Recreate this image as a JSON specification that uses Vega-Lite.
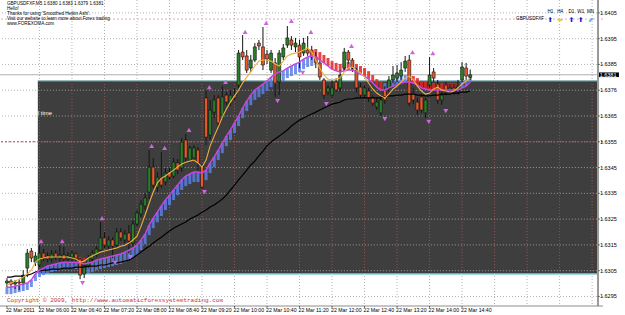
{
"$schema":"https://vega.github.io/schema/vega-lite/v6.json",
"width":603,"height":306,
"autosize":{"type":"none"},
"padding":{"left":0,"top":0,"right":22,"bottom":9},
"background":"white",
"config":{"view":{"stroke":null}},
"datasets":{
"bars":[
{"t":"2011-03-22T05:20:00Z","o":1.63002,"h":1.63021,"l":1.62986,"c":1.63010,"m1":1.62994,"m2":1.62986,"m3":1.63025,"hb":1.62959,"hd":"u"},
{"t":"2011-03-22T05:25:00Z","o":1.63010,"h":1.63017,"l":1.62983,"c":1.62998,"m1":1.63002,"m2":1.62986,"m3":1.63025,"hb":1.62959,"hd":"u"},
{"t":"2011-03-22T05:30:00Z","o":1.62998,"h":1.63014,"l":1.62979,"c":1.63006,"m1":1.63010,"m2":1.62990,"m3":1.63029,"hb":1.62963,"hd":"u"},
{"t":"2011-03-22T05:35:00Z","o":1.63006,"h":1.63017,"l":1.62975,"c":1.63002,"m1":1.63017,"m2":1.62994,"m3":1.63029,"hb":1.62967,"hd":"u"},
{"t":"2011-03-22T05:40:00Z","o":1.63002,"h":1.63052,"l":1.62994,"c":1.63033,"m1":1.63025,"m2":1.62998,"m3":1.63029,"hb":1.62971,"hd":"u"},
{"t":"2011-03-22T05:45:00Z","o":1.63060,"h":1.63134,"l":1.63025,"c":1.63118,"m1":1.63037,"m2":1.63002,"m3":1.63033,"hb":1.62975,"hd":"u"},
{"t":"2011-03-22T05:50:00Z","o":1.63126,"h":1.63138,"l":1.63083,"c":1.63099,"m1":1.63052,"m2":1.63014,"m3":1.63037,"hb":1.62987,"hd":"u"},
{"t":"2011-03-22T05:55:00Z","o":1.63083,"h":1.63122,"l":1.63068,"c":1.63107,"m1":1.63083,"m2":1.63037,"m3":1.63045,"hb":1.63010,"hd":"u"},
{"t":"2011-03-22T06:00:00Z","o":1.63072,"h":1.63149,"l":1.63064,"c":1.63118,"m1":1.63095,"m2":1.63052,"m3":1.63049,"hb":1.63025,"hd":"u"},
{"t":"2011-03-22T06:05:00Z","o":1.63118,"h":1.63134,"l":1.63087,"c":1.63099,"m1":1.63099,"m2":1.63060,"m3":1.63052,"hb":1.63033,"hd":"u"},
{"t":"2011-03-22T06:10:00Z","o":1.63107,"h":1.63122,"l":1.63083,"c":1.63095,"m1":1.63103,"m2":1.63068,"m3":1.63052,"hb":1.63041,"hd":"u"},
{"t":"2011-03-22T06:15:00Z","o":1.63095,"h":1.63130,"l":1.63083,"c":1.63115,"m1":1.63103,"m2":1.63072,"m3":1.63056,"hb":1.63045,"hd":"u"},
{"t":"2011-03-22T06:20:00Z","o":1.63118,"h":1.63130,"l":1.63091,"c":1.63103,"m1":1.63103,"m2":1.63076,"m3":1.63056,"hb":1.63049,"hd":"u"},
{"t":"2011-03-22T06:25:00Z","o":1.63099,"h":1.63149,"l":1.63087,"c":1.63111,"m1":1.63103,"m2":1.63080,"m3":1.63056,"hb":1.63053,"hd":"u"},
{"t":"2011-03-22T06:30:00Z","o":1.63111,"h":1.63142,"l":1.63083,"c":1.63095,"m1":1.63103,"m2":1.63083,"m3":1.63060,"hb":1.63056,"hd":"u"},
{"t":"2011-03-22T06:35:00Z","o":1.63095,"h":1.63122,"l":1.63080,"c":1.63107,"m1":1.63103,"m2":1.63083,"m3":1.63060,"hb":1.63056,"hd":"u"},
{"t":"2011-03-22T06:40:00Z","o":1.63103,"h":1.63130,"l":1.63083,"c":1.63118,"m1":1.63099,"m2":1.63083,"m3":1.63060,"hb":1.63056,"hd":"u"},
{"t":"2011-03-22T06:45:00Z","o":1.63115,"h":1.63122,"l":1.63080,"c":1.63099,"m1":1.63095,"m2":1.63083,"m3":1.63064,"hb":1.63056,"hd":"u"},
{"t":"2011-03-22T06:50:00Z","o":1.63095,"h":1.63099,"l":1.63017,"c":1.63033,"m1":1.63083,"m2":1.63080,"m3":1.63064,"hb":1.63103,"hd":"d"},
{"t":"2011-03-22T06:55:00Z","o":1.63037,"h":1.63083,"l":1.63021,"c":1.63068,"m1":1.63087,"m2":1.63076,"m3":1.63064,"hb":1.63099,"hd":"d"},
{"t":"2011-03-22T07:00:00Z","o":1.63068,"h":1.63111,"l":1.63060,"c":1.63099,"m1":1.63099,"m2":1.63080,"m3":1.63068,"hb":1.63041,"hd":"u"},
{"t":"2011-03-22T07:05:00Z","o":1.63095,"h":1.63130,"l":1.63087,"c":1.63118,"m1":1.63107,"m2":1.63083,"m3":1.63068,"hb":1.63044,"hd":"u"},
{"t":"2011-03-22T07:10:00Z","o":1.63111,"h":1.63145,"l":1.63103,"c":1.63134,"m1":1.63115,"m2":1.63091,"m3":1.63068,"hb":1.63052,"hd":"u"},
{"t":"2011-03-22T07:15:00Z","o":1.63130,"h":1.63239,"l":1.63122,"c":1.63177,"m1":1.63122,"m2":1.63095,"m3":1.63072,"hb":1.63056,"hd":"u"},
{"t":"2011-03-22T07:20:00Z","o":1.63177,"h":1.63200,"l":1.63138,"c":1.63149,"m1":1.63126,"m2":1.63099,"m3":1.63072,"hb":1.63060,"hd":"u"},
{"t":"2011-03-22T07:25:00Z","o":1.63145,"h":1.63184,"l":1.63130,"c":1.63169,"m1":1.63130,"m2":1.63103,"m3":1.63076,"hb":1.63064,"hd":"u"},
{"t":"2011-03-22T07:30:00Z","o":1.63169,"h":1.63180,"l":1.63099,"c":1.63145,"m1":1.63134,"m2":1.63107,"m3":1.63080,"hb":1.63068,"hd":"u"},
{"t":"2011-03-22T07:35:00Z","o":1.63149,"h":1.63215,"l":1.63142,"c":1.63200,"m1":1.63138,"m2":1.63111,"m3":1.63080,"hb":1.63072,"hd":"u"},
{"t":"2011-03-22T07:40:00Z","o":1.63200,"h":1.63215,"l":1.63165,"c":1.63177,"m1":1.63145,"m2":1.63115,"m3":1.63083,"hb":1.63076,"hd":"u"},
{"t":"2011-03-22T07:45:00Z","o":1.63169,"h":1.63208,"l":1.63157,"c":1.63192,"m1":1.63149,"m2":1.63122,"m3":1.63087,"hb":1.63083,"hd":"u"},
{"t":"2011-03-22T07:50:00Z","o":1.63196,"h":1.63227,"l":1.63118,"c":1.63165,"m1":1.63157,"m2":1.63130,"m3":1.63091,"hb":1.63091,"hd":"u"},
{"t":"2011-03-22T07:55:00Z","o":1.63157,"h":1.63246,"l":1.63145,"c":1.63231,"m1":1.63169,"m2":1.63138,"m3":1.63099,"hb":1.63099,"hd":"u"},
{"t":"2011-03-22T08:00:00Z","o":1.63231,"h":1.63285,"l":1.63223,"c":1.63274,"m1":1.63184,"m2":1.63149,"m3":1.63111,"hb":1.63110,"hd":"u"},
{"t":"2011-03-22T08:05:00Z","o":1.63270,"h":1.63324,"l":1.63258,"c":1.63308,"m1":1.63223,"m2":1.63169,"m3":1.63122,"hb":1.63130,"hd":"u"},
{"t":"2011-03-22T08:10:00Z","o":1.63301,"h":1.63351,"l":1.63285,"c":1.63332,"m1":1.63266,"m2":1.63192,"m3":1.63134,"hb":1.63153,"hd":"u"},
{"t":"2011-03-22T08:15:00Z","o":1.63355,"h":1.63518,"l":1.63328,"c":1.63452,"m1":1.63312,"m2":1.63227,"m3":1.63145,"hb":1.63188,"hd":"u"},
{"t":"2011-03-22T08:20:00Z","o":1.63452,"h":1.63487,"l":1.63371,"c":1.63382,"m1":1.63355,"m2":1.63254,"m3":1.63157,"hb":1.63215,"hd":"u"},
{"t":"2011-03-22T08:25:00Z","o":1.63374,"h":1.63433,"l":1.63355,"c":1.63413,"m1":1.63390,"m2":1.63277,"m3":1.63169,"hb":1.63238,"hd":"u"},
{"t":"2011-03-22T08:30:00Z","o":1.63409,"h":1.63510,"l":1.63371,"c":1.63382,"m1":1.63409,"m2":1.63301,"m3":1.63180,"hb":1.63262,"hd":"u"},
{"t":"2011-03-22T08:35:00Z","o":1.63394,"h":1.63448,"l":1.63382,"c":1.63429,"m1":1.63417,"m2":1.63324,"m3":1.63192,"hb":1.63285,"hd":"u"},
{"t":"2011-03-22T08:40:00Z","o":1.63433,"h":1.63448,"l":1.63402,"c":1.63413,"m1":1.63429,"m2":1.63343,"m3":1.63204,"hb":1.63304,"hd":"u"},
{"t":"2011-03-22T08:45:00Z","o":1.63417,"h":1.63487,"l":1.63409,"c":1.63471,"m1":1.63440,"m2":1.63363,"m3":1.63215,"hb":1.63324,"hd":"u"},
{"t":"2011-03-22T08:50:00Z","o":1.63468,"h":1.63483,"l":1.63425,"c":1.63440,"m1":1.63452,"m2":1.63382,"m3":1.63223,"hb":1.63343,"hd":"u"},
{"t":"2011-03-22T08:55:00Z","o":1.63448,"h":1.63565,"l":1.63433,"c":1.63549,"m1":1.63464,"m2":1.63402,"m3":1.63231,"hb":1.63363,"hd":"u"},
{"t":"2011-03-22T09:00:00Z","o":1.63557,"h":1.63580,"l":1.63471,"c":1.63487,"m1":1.63471,"m2":1.63417,"m3":1.63239,"hb":1.63378,"hd":"u"},
{"t":"2011-03-22T09:05:00Z","o":1.63479,"h":1.63534,"l":1.63468,"c":1.63526,"m1":1.63475,"m2":1.63425,"m3":1.63250,"hb":1.63386,"hd":"u"},
{"t":"2011-03-22T09:10:00Z","o":1.63487,"h":1.63537,"l":1.63479,"c":1.63526,"m1":1.63479,"m2":1.63433,"m3":1.63258,"hb":1.63394,"hd":"u"},
{"t":"2011-03-22T09:15:00Z","o":1.63518,"h":1.63530,"l":1.63440,"c":1.63468,"m1":1.63468,"m2":1.63433,"m3":1.63266,"hb":1.63394,"hd":"u"},
{"t":"2011-03-22T09:20:00Z","o":1.63456,"h":1.63464,"l":1.63367,"c":1.63374,"m1":1.63452,"m2":1.63429,"m3":1.63277,"hb":1.63390,"hd":"u"},
{"t":"2011-03-22T09:25:00Z","o":1.63720,"h":1.63751,"l":1.63537,"c":1.63568,"m1":1.63479,"m2":1.63440,"m3":1.63285,"hb":1.63401,"hd":"u"},
{"t":"2011-03-22T09:30:00Z","o":1.63576,"h":1.63712,"l":1.63557,"c":1.63673,"m1":1.63534,"m2":1.63468,"m3":1.63297,"hb":1.63429,"hd":"u"},
{"t":"2011-03-22T09:35:00Z","o":1.63665,"h":1.63731,"l":1.63642,"c":1.63712,"m1":1.63572,"m2":1.63491,"m3":1.63305,"hb":1.63452,"hd":"u"},
{"t":"2011-03-22T09:40:00Z","o":1.63720,"h":1.63731,"l":1.63607,"c":1.63623,"m1":1.63607,"m2":1.63518,"m3":1.63316,"hb":1.63479,"hd":"u"},
{"t":"2011-03-22T09:45:00Z","o":1.63654,"h":1.63766,"l":1.63642,"c":1.63724,"m1":1.63646,"m2":1.63545,"m3":1.63328,"hb":1.63506,"hd":"u"},
{"t":"2011-03-22T09:50:00Z","o":1.63731,"h":1.63743,"l":1.63693,"c":1.63704,"m1":1.63677,"m2":1.63572,"m3":1.63343,"hb":1.63533,"hd":"u"},
{"t":"2011-03-22T09:55:00Z","o":1.63700,"h":1.63751,"l":1.63689,"c":1.63731,"m1":1.63704,"m2":1.63596,"m3":1.63363,"hb":1.63557,"hd":"u"},
{"t":"2011-03-22T10:00:00Z","o":1.63731,"h":1.63759,"l":1.63712,"c":1.63720,"m1":1.63728,"m2":1.63623,"m3":1.63382,"hb":1.63584,"hd":"u"},
{"t":"2011-03-22T10:05:00Z","o":1.63770,"h":1.63906,"l":1.63759,"c":1.63894,"m1":1.63751,"m2":1.63650,"m3":1.63402,"hb":1.63611,"hd":"u"},
{"t":"2011-03-22T10:10:00Z","o":1.63898,"h":1.63964,"l":1.63867,"c":1.63879,"m1":1.63778,"m2":1.63681,"m3":1.63421,"hb":1.63642,"hd":"u"},
{"t":"2011-03-22T10:15:00Z","o":1.63883,"h":1.63906,"l":1.63817,"c":1.63828,"m1":1.63801,"m2":1.63708,"m3":1.63440,"hb":1.63669,"hd":"u"},
{"t":"2011-03-22T10:20:00Z","o":1.63836,"h":1.63887,"l":1.63821,"c":1.63867,"m1":1.63821,"m2":1.63731,"m3":1.63460,"hb":1.63692,"hd":"u"},
{"t":"2011-03-22T10:25:00Z","o":1.63867,"h":1.63933,"l":1.63859,"c":1.63918,"m1":1.63844,"m2":1.63751,"m3":1.63475,"hb":1.63712,"hd":"u"},
{"t":"2011-03-22T10:30:00Z","o":1.63933,"h":1.63945,"l":1.63906,"c":1.63922,"m1":1.63863,"m2":1.63762,"m3":1.63495,"hb":1.63723,"hd":"u"},
{"t":"2011-03-22T10:35:00Z","o":1.63918,"h":1.63995,"l":1.63828,"c":1.63848,"m1":1.63867,"m2":1.63774,"m3":1.63514,"hb":1.63735,"hd":"u"},
{"t":"2011-03-22T10:40:00Z","o":1.63890,"h":1.63906,"l":1.63852,"c":1.63871,"m1":1.63867,"m2":1.63786,"m3":1.63534,"hb":1.63747,"hd":"u"},
{"t":"2011-03-22T10:45:00Z","o":1.63828,"h":1.63906,"l":1.63817,"c":1.63894,"m1":1.63863,"m2":1.63801,"m3":1.63549,"hb":1.63762,"hd":"u"},
{"t":"2011-03-22T10:50:00Z","o":1.63856,"h":1.63875,"l":1.63724,"c":1.63778,"m1":1.63852,"m2":1.63813,"m3":1.63561,"hb":1.63774,"hd":"u"},
{"t":"2011-03-22T10:55:00Z","o":1.63782,"h":1.63906,"l":1.63731,"c":1.63894,"m1":1.63844,"m2":1.63821,"m3":1.63572,"hb":1.63782,"hd":"u"},
{"t":"2011-03-22T11:00:00Z","o":1.63879,"h":1.63929,"l":1.63867,"c":1.63914,"m1":1.63863,"m2":1.63825,"m3":1.63584,"hb":1.63786,"hd":"u"},
{"t":"2011-03-22T11:05:00Z","o":1.63925,"h":1.63999,"l":1.63914,"c":1.63953,"m1":1.63883,"m2":1.63836,"m3":1.63596,"hb":1.63797,"hd":"u"},
{"t":"2011-03-22T11:10:00Z","o":1.63945,"h":1.63960,"l":1.63906,"c":1.63925,"m1":1.63890,"m2":1.63844,"m3":1.63611,"hb":1.63805,"hd":"u"},
{"t":"2011-03-22T11:15:00Z","o":1.63918,"h":1.63953,"l":1.63898,"c":1.63933,"m1":1.63894,"m2":1.63852,"m3":1.63623,"hb":1.63813,"hd":"u"},
{"t":"2011-03-22T11:20:00Z","o":1.63925,"h":1.63945,"l":1.63836,"c":1.63879,"m1":1.63898,"m2":1.63859,"m3":1.63634,"hb":1.63820,"hd":"u"},
{"t":"2011-03-22T11:25:00Z","o":1.63894,"h":1.63953,"l":1.63883,"c":1.63933,"m1":1.63906,"m2":1.63871,"m3":1.63642,"hb":1.63832,"hd":"u"},
{"t":"2011-03-22T11:30:00Z","o":1.63906,"h":1.63960,"l":1.63883,"c":1.63894,"m1":1.63914,"m2":1.63879,"m3":1.63650,"hb":1.63840,"hd":"u"},
{"t":"2011-03-22T11:35:00Z","o":1.63906,"h":1.63922,"l":1.63867,"c":1.63879,"m1":1.63898,"m2":1.63883,"m3":1.63658,"hb":1.63844,"hd":"u"},
{"t":"2011-03-22T11:40:00Z","o":1.63879,"h":1.63898,"l":1.63836,"c":1.63856,"m1":1.63867,"m2":1.63879,"m3":1.63665,"hb":1.63910,"hd":"d"},
{"t":"2011-03-22T11:45:00Z","o":1.63856,"h":1.63867,"l":1.63790,"c":1.63801,"m1":1.63836,"m2":1.63867,"m3":1.63673,"hb":1.63898,"hd":"d"},
{"t":"2011-03-22T11:50:00Z","o":1.63790,"h":1.63797,"l":1.63716,"c":1.63731,"m1":1.63809,"m2":1.63856,"m3":1.63681,"hb":1.63887,"hd":"d"},
{"t":"2011-03-22T11:55:00Z","o":1.63743,"h":1.63770,"l":1.63731,"c":1.63759,"m1":1.63793,"m2":1.63844,"m3":1.63689,"hb":1.63875,"hd":"d"},
{"t":"2011-03-22T12:00:00Z","o":1.63731,"h":1.63790,"l":1.63720,"c":1.63759,"m1":1.63790,"m2":1.63832,"m3":1.63696,"hb":1.63863,"hd":"d"},
{"t":"2011-03-22T12:05:00Z","o":1.63782,"h":1.63797,"l":1.63743,"c":1.63751,"m1":1.63793,"m2":1.63825,"m3":1.63700,"hb":1.63856,"hd":"d"},
{"t":"2011-03-22T12:10:00Z","o":1.63759,"h":1.63828,"l":1.63743,"c":1.63809,"m1":1.63797,"m2":1.63821,"m3":1.63704,"hb":1.63852,"hd":"d"},
{"t":"2011-03-22T12:15:00Z","o":1.63836,"h":1.63914,"l":1.63828,"c":1.63898,"m1":1.63821,"m2":1.63825,"m3":1.63712,"hb":1.63856,"hd":"d"},
{"t":"2011-03-22T12:20:00Z","o":1.63898,"h":1.63906,"l":1.63852,"c":1.63867,"m1":1.63836,"m2":1.63828,"m3":1.63716,"hb":1.63859,"hd":"d"},
{"t":"2011-03-22T12:25:00Z","o":1.63867,"h":1.63875,"l":1.63821,"c":1.63836,"m1":1.63840,"m2":1.63828,"m3":1.63716,"hb":1.63859,"hd":"d"},
{"t":"2011-03-22T12:30:00Z","o":1.63828,"h":1.63836,"l":1.63743,"c":1.63759,"m1":1.63828,"m2":1.63821,"m3":1.63720,"hb":1.63852,"hd":"d"},
{"t":"2011-03-22T12:35:00Z","o":1.63762,"h":1.63778,"l":1.63720,"c":1.63731,"m1":1.63817,"m2":1.63813,"m3":1.63720,"hb":1.63844,"hd":"d"},
{"t":"2011-03-22T12:40:00Z","o":1.63731,"h":1.63770,"l":1.63716,"c":1.63759,"m1":1.63801,"m2":1.63805,"m3":1.63720,"hb":1.63836,"hd":"d"},
{"t":"2011-03-22T12:45:00Z","o":1.63747,"h":1.63759,"l":1.63704,"c":1.63720,"m1":1.63778,"m2":1.63793,"m3":1.63720,"hb":1.63824,"hd":"d"},
{"t":"2011-03-22T12:50:00Z","o":1.63720,"h":1.63731,"l":1.63689,"c":1.63700,"m1":1.63755,"m2":1.63778,"m3":1.63720,"hb":1.63809,"hd":"d"},
{"t":"2011-03-22T12:55:00Z","o":1.63685,"h":1.63720,"l":1.63673,"c":1.63704,"m1":1.63739,"m2":1.63762,"m3":1.63720,"hb":1.63793,"hd":"d"},
{"t":"2011-03-22T13:00:00Z","o":1.63662,"h":1.63728,"l":1.63650,"c":1.63712,"m1":1.63728,"m2":1.63751,"m3":1.63720,"hb":1.63782,"hd":"d"},
{"t":"2011-03-22T13:05:00Z","o":1.63751,"h":1.63766,"l":1.63696,"c":1.63712,"m1":1.63720,"m2":1.63751,"m3":1.63724,"hb":1.63778,"hd":"u"},
{"t":"2011-03-22T13:10:00Z","o":1.63759,"h":1.63805,"l":1.63743,"c":1.63790,"m1":1.63735,"m2":1.63759,"m3":1.63728,"hb":1.63786,"hd":"u"},
{"t":"2011-03-22T13:15:00Z","o":1.63790,"h":1.63844,"l":1.63778,"c":1.63809,"m1":1.63755,"m2":1.63766,"m3":1.63728,"hb":1.63793,"hd":"u"},
{"t":"2011-03-22T13:20:00Z","o":1.63797,"h":1.63848,"l":1.63782,"c":1.63817,"m1":1.63766,"m2":1.63770,"m3":1.63731,"hb":1.63797,"hd":"u"},
{"t":"2011-03-22T13:25:00Z","o":1.63805,"h":1.63859,"l":1.63790,"c":1.63828,"m1":1.63782,"m2":1.63778,"m3":1.63731,"hb":1.63805,"hd":"u"},
{"t":"2011-03-22T13:30:00Z","o":1.63836,"h":1.63883,"l":1.63821,"c":1.63863,"m1":1.63797,"m2":1.63782,"m3":1.63735,"hb":1.63809,"hd":"u"},
{"t":"2011-03-22T13:35:00Z","o":1.63867,"h":1.63887,"l":1.63689,"c":1.63700,"m1":1.63805,"m2":1.63782,"m3":1.63735,"hb":1.63809,"hd":"u"},
{"t":"2011-03-22T13:40:00Z","o":1.63739,"h":1.63759,"l":1.63696,"c":1.63712,"m1":1.63790,"m2":1.63778,"m3":1.63735,"hb":1.63805,"hd":"d"},
{"t":"2011-03-22T13:45:00Z","o":1.63704,"h":1.63720,"l":1.63654,"c":1.63673,"m1":1.63766,"m2":1.63770,"m3":1.63731,"hb":1.63797,"hd":"d"},
{"t":"2011-03-22T13:50:00Z","o":1.63724,"h":1.63735,"l":1.63662,"c":1.63673,"m1":1.63747,"m2":1.63759,"m3":1.63731,"hb":1.63786,"hd":"d"},
{"t":"2011-03-22T13:55:00Z","o":1.63662,"h":1.63720,"l":1.63642,"c":1.63712,"m1":1.63735,"m2":1.63755,"m3":1.63728,"hb":1.63782,"hd":"d"},
{"t":"2011-03-22T14:00:00Z","o":1.63770,"h":1.63879,"l":1.63759,"c":1.63809,"m1":1.63739,"m2":1.63751,"m3":1.63728,"hb":1.63778,"hd":"d"},
{"t":"2011-03-22T14:05:00Z","o":1.63821,"h":1.63836,"l":1.63782,"c":1.63797,"m1":1.63755,"m2":1.63751,"m3":1.63731,"hb":1.63778,"hd":"d"},
{"t":"2011-03-22T14:10:00Z","o":1.63774,"h":1.63790,"l":1.63696,"c":1.63712,"m1":1.63762,"m2":1.63751,"m3":1.63731,"hb":1.63778,"hd":"d"},
{"t":"2011-03-22T14:15:00Z","o":1.63712,"h":1.63743,"l":1.63693,"c":1.63731,"m1":1.63751,"m2":1.63751,"m3":1.63735,"hb":1.63778,"hd":"d"},
{"t":"2011-03-22T14:20:00Z","o":1.63770,"h":1.63782,"l":1.63731,"c":1.63751,"m1":1.63747,"m2":1.63751,"m3":1.63735,"hb":1.63778,"hd":"d"},
{"t":"2011-03-22T14:25:00Z","o":1.63751,"h":1.63774,"l":1.63739,"c":1.63759,"m1":1.63743,"m2":1.63751,"m3":1.63735,"hb":1.63778,"hd":"d"},
{"t":"2011-03-22T14:30:00Z","o":1.63759,"h":1.63774,"l":1.63731,"c":1.63743,"m1":1.63747,"m2":1.63751,"m3":1.63739,"hb":1.63778,"hd":"d"},
{"t":"2011-03-22T14:35:00Z","o":1.63743,"h":1.63790,"l":1.63731,"c":1.63766,"m1":1.63759,"m2":1.63751,"m3":1.63739,"hb":1.63778,"hd":"d"},
{"t":"2011-03-22T14:40:00Z","o":1.63790,"h":1.63859,"l":1.63782,"c":1.63840,"m1":1.63774,"m2":1.63759,"m3":1.63743,"hb":1.63782,"hd":"u"},
{"t":"2011-03-22T14:45:00Z","o":1.63836,"h":1.63856,"l":1.63790,"c":1.63805,"m1":1.63786,"m2":1.63766,"m3":1.63743,"hb":1.63789,"hd":"u"},
{"t":"2011-03-22T14:50:00Z","o":1.63800,"h":1.63830,"l":1.63790,"c":1.63810,"m1":1.63797,"m2":1.63782,"m3":1.63747,"hb":1.63805,"hd":"u"}
],
"ticks":[
{"t":"2011-03-22T06:00:00Z"},{"t":"2011-03-22T06:40:00Z"},{"t":"2011-03-22T07:20:00Z"},{"t":"2011-03-22T08:00:00Z"},{"t":"2011-03-22T08:40:00Z"},{"t":"2011-03-22T09:20:00Z"},{"t":"2011-03-22T10:00:00Z"},{"t":"2011-03-22T10:40:00Z"},{"t":"2011-03-22T11:20:00Z"},{"t":"2011-03-22T12:00:00Z"},{"t":"2011-03-22T12:40:00Z"},{"t":"2011-03-22T13:20:00Z"},{"t":"2011-03-22T14:00:00Z"},{"t":"2011-03-22T14:40:00Z"},{"t":"2011-03-22T15:20:00Z"},{"t":"2011-03-22T16:00:00Z"},{"t":"2011-03-22T16:40:00Z"},{"t":"2011-03-22T17:20:00Z"}
],
"xl":[
{"t":"2011-03-22T05:20:00Z","s":"22 Mar 2011"},{"t":"2011-03-22T06:00:00Z","s":"22 Mar 06:00"},{"t":"2011-03-22T06:40:00Z","s":"22 Mar 06:40"},{"t":"2011-03-22T07:20:00Z","s":"22 Mar 07:20"},{"t":"2011-03-22T08:00:00Z","s":"22 Mar 08:00"},{"t":"2011-03-22T08:40:00Z","s":"22 Mar 08:40"},{"t":"2011-03-22T09:20:00Z","s":"22 Mar 09:20"},{"t":"2011-03-22T10:00:00Z","s":"22 Mar 10:00"},{"t":"2011-03-22T10:40:00Z","s":"22 Mar 10:40"},{"t":"2011-03-22T11:20:00Z","s":"22 Mar 11:20"},{"t":"2011-03-22T12:00:00Z","s":"22 Mar 12:00"},{"t":"2011-03-22T12:40:00Z","s":"22 Mar 12:40"},{"t":"2011-03-22T13:20:00Z","s":"22 Mar 13:20"},{"t":"2011-03-22T14:00:00Z","s":"22 Mar 14:00"},{"t":"2011-03-22T14:40:00Z","s":"22 Mar 14:40"}
],
"levels":[{"p":1.6295,"s":"1.6295"},{"p":1.6305,"s":"1.6305"},{"p":1.6315,"s":"1.6315"},{"p":1.6325,"s":"1.6325"},{"p":1.6335,"s":"1.6335"},{"p":1.6345,"s":"1.6345"},{"p":1.6355,"s":"1.6355"},{"p":1.6365,"s":"1.6365"},{"p":1.6375,"s":"1.6376"},{"p":1.6385,"s":"1.6385"},{"p":1.6395,"s":"1.6395"},{"p":1.6405,"s":"1.6405"}],
"box":[{"t1":"2011-03-22T05:58:00Z","t2":"2011-03-22T17:27:15Z","p1":1.63037,"p2":1.63785}],
"arrows":[
{"t":"2011-03-22T06:02:00Z","p":1.63165,"d":"u"},{"t":"2011-03-22T06:28:00Z","p":1.63165,"d":"u"},{"t":"2011-03-22T07:17:00Z","p":1.63254,"d":"u"},{"t":"2011-03-22T08:18:00Z","p":1.63534,"d":"u"},{"t":"2011-03-22T08:34:00Z","p":1.63526,"d":"u"},{"t":"2011-03-22T09:04:00Z","p":1.63596,"d":"u"},{"t":"2011-03-22T09:29:00Z","p":1.63762,"d":"u"},{"t":"2011-03-22T09:49:00Z","p":1.63782,"d":"u"},{"t":"2011-03-22T10:13:00Z","p":1.63976,"d":"u"},{"t":"2011-03-22T10:39:00Z","p":1.64011,"d":"u"},{"t":"2011-03-22T11:10:00Z","p":1.64019,"d":"u"},{"t":"2011-03-22T11:34:00Z","p":1.63976,"d":"u"},{"t":"2011-03-22T12:24:00Z","p":1.63922,"d":"u"},{"t":"2011-03-22T13:39:00Z","p":1.63898,"d":"u"},{"t":"2011-03-22T14:04:00Z","p":1.63894,"d":"u"},
{"t":"2011-03-22T06:53:00Z","p":1.63002,"d":"d"},{"t":"2011-03-22T07:33:00Z","p":1.63080,"d":"d"},{"t":"2011-03-22T07:52:00Z","p":1.63103,"d":"d"},{"t":"2011-03-22T09:23:00Z","p":1.63355,"d":"d"},{"t":"2011-03-22T10:53:00Z","p":1.63708,"d":"d"},{"t":"2011-03-22T11:24:00Z","p":1.63817,"d":"d"},{"t":"2011-03-22T11:53:00Z","p":1.63696,"d":"d"},{"t":"2011-03-22T13:05:00Z","p":1.63638,"d":"d"},{"t":"2011-03-22T13:59:00Z","p":1.63627,"d":"d"},{"t":"2011-03-22T14:20:00Z","p":1.63669,"d":"d"}
],
"header":[
{"t":"2011-03-22T05:20:00Z","p":1.64084,"s":"GBPUSDFXF,M5  1.6380 1.6383 1.6379 1.6381"},
{"t":"2011-03-22T05:20:00Z","p":1.64065,"s":"Hello!"},
{"t":"2011-03-22T05:20:00Z","p":1.64046,"s":"Thanks for using 'Smoothed Heikin Ashi'."},
{"t":"2011-03-22T05:20:00Z","p":1.64026,"s":"Visit our website to learn more about Forex trading"},
{"t":"2011-03-22T05:20:00Z","p":1.64007,"s":"www.FOREXOMA.com"}
],
"tf":[
{"t":"2011-03-22T16:28:35Z","tf":"H1","g":"⬆"},{"t":"2011-03-22T16:40:40Z","tf":"H4","g":"➡"},{"t":"2011-03-22T16:54:35Z","tf":"D1","g":"⬆"},{"t":"2011-03-22T17:06:05Z","tf":"W1","g":"⬆"},{"t":"2011-03-22T17:18:10Z","tf":"MN","g":"⬈"}
]
},
"layer":[
{"data":{"name":"ticks"},"mark":{"type":"rule","color":"#b4b4b4","strokeDash":[1,2],"strokeWidth":1},
 "encoding":{"x":{"field":"t","type":"temporal","scale":{"type":"utc","domain":[1300771055000,1300814835000]},"axis":null}}},
{"data":{"name":"levels"},"mark":{"type":"rule","color":"#b4b4b4","strokeDash":[1,2],"strokeWidth":1},
 "encoding":{"y":{"field":"p","type":"quantitative","scale":{"domain":[1.62913,1.641],"zero":false,"nice":false},"axis":null}}},
{"data":{"name":"box"},"mark":{"type":"rect","fill":"#3e3e3e"},
 "encoding":{"x":{"field":"t1","type":"temporal","axis":null},"x2":{"field":"t2"},"y":{"field":"p1","type":"quantitative","axis":null},"y2":{"field":"p2"}}},
{"data":{"name":"ticks"},"mark":{"type":"rule","color":"#9a5050","strokeDash":[1,2],"strokeWidth":1},
 "encoding":{"x":{"field":"t","type":"temporal","axis":null},"y":{"datum":1.63037,"type":"quantitative","axis":null},"y2":{"datum":1.63785}}},
{"data":{"name":"levels"},"transform":[{"filter":{"field":"p","range":[1.6304,1.6378]}}],"mark":{"type":"rule","color":"#9c9c9c","strokeDash":[1,2],"strokeWidth":1},
 "encoding":{"y":{"field":"p","type":"quantitative","axis":null},"x":{"datum":1300773480000,"type":"temporal","axis":null},"x2":{"datum":1300814835000}}},
{"data":{"name":"box"},"mark":{"type":"rule","color":"#2e7f7f","strokeWidth":1.5},
 "encoding":{"x":{"field":"t1","type":"temporal","axis":null},"x2":{"field":"t2"},"y":{"field":"p2","type":"quantitative","axis":null}}},
{"data":{"name":"box"},"mark":{"type":"rule","color":"#7fd4d4","strokeWidth":1.5},
 "encoding":{"x":{"field":"t1","type":"temporal","axis":null},"x2":{"field":"t2"},"y":{"field":"p1","type":"quantitative","axis":null}}},
{"data":{"values":[{"p":1.6381}]},"mark":{"type":"rule","color":"#b0b0b0","strokeWidth":1},
 "encoding":{"y":{"field":"p","type":"quantitative","axis":null}}},
{"data":{"values":[{"p":1.6355}]},"mark":{"type":"rule","color":"#b84848","strokeDash":[2,2],"strokeWidth":1},
 "encoding":{"y":{"field":"p","type":"quantitative","axis":null}}},
{"data":{"values":[{"p":1.64026}]},"mark":{"type":"rule","color":"#e6a6cc","strokeDash":[2,2],"strokeWidth":1},
 "encoding":{"y":{"field":"p","type":"quantitative","axis":null}}},
{"data":{"name":"bars"},"mark":{"type":"bar","size":3,"opacity":0.85},
 "encoding":{"x":{"field":"t","type":"temporal","axis":null},"y":{"field":"m2","type":"quantitative","axis":null},"y2":{"field":"hb"},
  "color":{"condition":{"test":"datum.hd=='u'","value":"#5a7de6"},"value":"#e52222"}}},
{"data":{"name":"bars"},"mark":{"type":"rule","color":"#151515","strokeWidth":1},
 "encoding":{"x":{"field":"t","type":"temporal","axis":null},"y":{"field":"l","type":"quantitative","axis":null},"y2":{"field":"h"}}},
{"data":{"name":"bars"},"mark":{"type":"bar","size":3,"stroke":"#111111","strokeWidth":0.6},
 "encoding":{"x":{"field":"t","type":"temporal","axis":null},"y":{"field":"o","type":"quantitative","axis":null},"y2":{"field":"c"},
  "color":{"condition":{"test":"datum.c>=datum.o","value":"#2a7d2a"},"value":"#e5582b"}}},
{"data":{"name":"bars"},"mark":{"type":"line","color":"#000000","strokeWidth":1.2},
 "encoding":{"x":{"field":"t","type":"temporal","axis":null},"y":{"field":"m3","type":"quantitative","axis":null}}},
{"data":{"name":"bars"},"mark":{"type":"line","color":"#c846e0","strokeWidth":1.5},
 "encoding":{"x":{"field":"t","type":"temporal","axis":null},"y":{"field":"m2","type":"quantitative","axis":null}}},
{"data":{"name":"bars"},"mark":{"type":"line","color":"#f0b040","strokeWidth":1.1},
 "encoding":{"x":{"field":"t","type":"temporal","axis":null},"y":{"field":"m1","type":"quantitative","axis":null}}},
{"data":{"name":"arrows"},"mark":{"type":"point","filled":true,"size":24,"color":"#cc66dd","opacity":1},
 "encoding":{"x":{"field":"t","type":"temporal","axis":null},"y":{"field":"p","type":"quantitative","axis":null},
  "shape":{"condition":{"test":"datum.d=='u'","value":"triangle-up"},"value":"triangle-down"}}},
{"data":{"values":[{"t":"2011-03-22T17:27:15Z"}]},"mark":{"type":"rule","color":"#9a9a9a","strokeWidth":2},
 "encoding":{"x":{"field":"t","type":"temporal","axis":null}}},
{"data":{"values":[{"p":1.62913}]},"mark":{"type":"rule","color":"#8c8c8c","strokeWidth":1},
 "encoding":{"y":{"field":"p","type":"quantitative","axis":null}}},
{"data":{"name":"xl"},"mark":{"type":"rule","color":"#555555","strokeWidth":1},
 "encoding":{"x":{"field":"t","type":"temporal","axis":null},"y":{"datum":1.62913,"type":"quantitative","axis":null},"y2":{"datum":1.62906}}},
{"data":{"name":"xl"},"mark":{"type":"text","align":"left","baseline":"top","font":"Liberation Sans","fontSize":5.2,"color":"#000","dx":-1},
 "encoding":{"x":{"field":"t","type":"temporal","axis":null},"y":{"datum":1.62904,"type":"quantitative","axis":null},"text":{"field":"s"}}},
{"data":{"name":"levels"},"mark":{"type":"rule","color":"#555555","strokeWidth":1},
 "encoding":{"y":{"field":"p","type":"quantitative","axis":null},"x":{"datum":1300814835000,"type":"temporal","axis":null},"x2":{"datum":1300814940000}}},
{"data":{"name":"levels"},"mark":{"type":"text","align":"left","baseline":"middle","font":"Liberation Sans","fontSize":5.5,"color":"#000"},
 "encoding":{"x":{"datum":1300814980000,"type":"temporal","axis":null},"y":{"field":"p","type":"quantitative","axis":null},"text":{"field":"s"}}},
{"data":{"name":"header"},"mark":{"type":"text","align":"left","baseline":"middle","font":"Liberation Sans","fontSize":4.6,"color":"#000"},
 "encoding":{"x":{"field":"t","type":"temporal","axis":null},"y":{"field":"p","type":"quantitative","axis":null},"text":{"field":"s"}}},
{"data":{"values":[{"t":"2011-03-22T05:20:00Z","p":1.62936,"s":"Copyright © 2009, http://www.automaticforexsystemtrading.com"}]},
 "mark":{"type":"text","align":"left","baseline":"middle","font":"Liberation Mono","fontSize":6,"color":"#c83232"},
 "encoding":{"x":{"field":"t","type":"temporal","axis":null},"y":{"field":"p","type":"quantitative","axis":null},"text":{"field":"s"}}},
{"data":{"values":[{"t":"2011-03-22T05:58:00Z","p":1.63662,"s":"l time"}]},
 "mark":{"type":"text","align":"left","baseline":"middle","font":"Liberation Sans","fontSize":6,"color":"#ffffff"},
 "encoding":{"x":{"field":"t","type":"temporal","axis":null},"y":{"field":"p","type":"quantitative","axis":null},"text":{"field":"s"}}},
{"data":{"values":[{"t":"2011-03-22T16:21:00Z","p":1.64026,"s":"GBPUSDFXF"}]},
 "mark":{"type":"text","align":"right","baseline":"middle","font":"Liberation Sans","fontSize":4.6,"color":"#000"},
 "encoding":{"x":{"field":"t","type":"temporal","axis":null},"y":{"field":"p","type":"quantitative","axis":null},"text":{"field":"s"}}},
{"data":{"name":"tf"},"mark":{"type":"text","align":"center","baseline":"middle","font":"Liberation Sans","fontSize":4.6,"color":"#000"},
 "encoding":{"x":{"field":"t","type":"temporal","axis":null},"y":{"datum":1.64053,"type":"quantitative","axis":null},"text":{"field":"tf"}}},
{"data":{"name":"tf"},"mark":{"type":"text","align":"center","baseline":"middle","font":"DejaVu Sans","fontSize":6.5},
 "encoding":{"x":{"field":"t","type":"temporal","axis":null},"y":{"datum":1.64022,"type":"quantitative","axis":null},"text":{"field":"g"},
  "color":{"field":"tf","type":"nominal","scale":{"domain":["H1","H4","D1","W1","MN"],"range":["#1414c8","#e8c800","#1414c8","#1414c8","#3cb4e6"]},"legend":null}}},
{"data":{"values":[{"t1":"2011-03-22T17:28:30Z","t2":"2011-03-22T17:53:00Z","p1":1.63801,"p2":1.63819}]},"mark":{"type":"rect","fill":"#000000"},
 "encoding":{"x":{"field":"t1","type":"temporal","axis":null},"x2":{"field":"t2"},"y":{"field":"p1","type":"quantitative","axis":null},"y2":{"field":"p2"}}},
{"data":{"values":[{"t":"2011-03-22T17:29:15Z","p":1.6381,"s":"1.6381"}]},
 "mark":{"type":"text","align":"left","baseline":"middle","font":"Liberation Sans","fontSize":5.5,"color":"#ffffff"},
 "encoding":{"x":{"field":"t","type":"temporal","axis":null},"y":{"field":"p","type":"quantitative","axis":null},"text":{"field":"s"}}}
]
}
